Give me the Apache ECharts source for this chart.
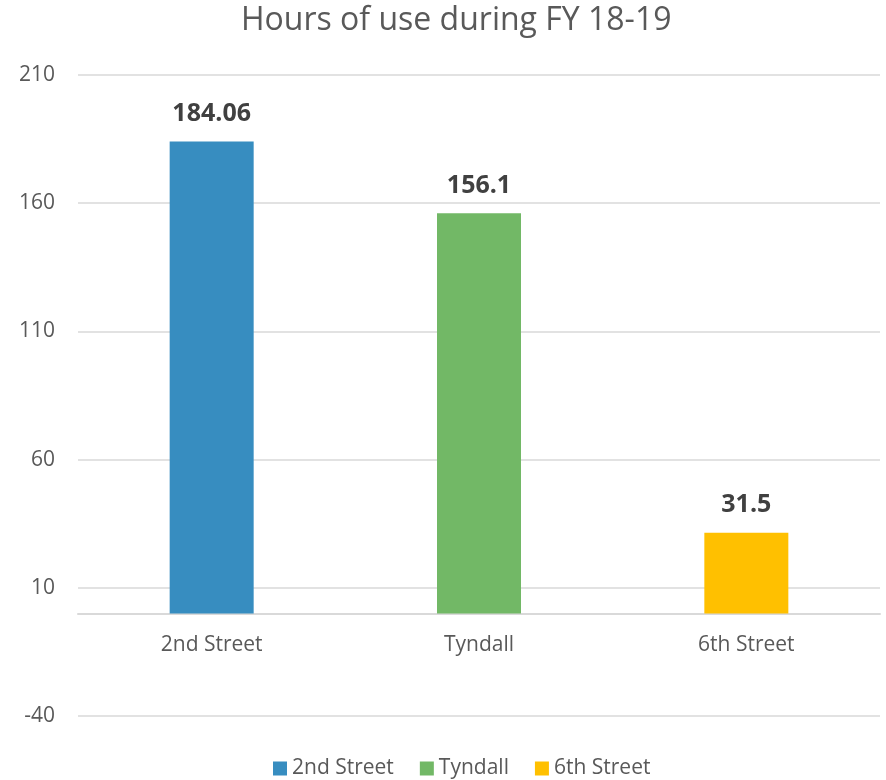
<!DOCTYPE html>
<html>
<head>
<meta charset="utf-8">
<script src="https://cdn.jsdelivr.net/npm/echarts@6/dist/echarts.min.js"></script>
<style>
  html, body { margin: 0; padding: 0; background: #fff; }
  #chart { width: 886px; height: 780px; }
</style>
</head>
<body>
<div id="chart"></div>
<script>
// data
var categories = ['2nd Street', 'Tyndall', '6th Street'];
var hours = [184.06, 156.1, 31.5];
var barColors = ['#378DC0', '#72B866', '#FFC000'];
var yMin = -40, yMax = 210, yStep = 50;

var font = '"Open Sans", "Liberation Sans", sans-serif';

var myChart = echarts.init(document.getElementById('chart'));

// one series per location so each gets its own legend entry
var series = categories.map(function (name, i) {
    var d = categories.map(function (c, j) { return j === i ? hours[i] : '-'; });
    return {
        name: name,
        type: 'bar',
        stack: 'one',
        barWidth: 84,
        data: d,
        itemStyle: { color: barColors[i] },
        label: {
            show: true,
            position: 'top',
            distance: 15,
            fontFamily: font,
            fontSize: 25,
            fontWeight: 'bold',
            color: '#404040'
        }
    };
});

var option = {
    animation: false,
    color: barColors,
    title: {
        text: 'Hours of use during FY 18-19',
        left: 236,
        top: 0,
        textStyle: {
            fontFamily: font,
            fontSize: 32,
            fontWeight: 'normal',
            color: '#595959'
        }
    },
    legend: {
        bottom: -4,
        left: 268,
        icon: 'rect',
        itemWidth: 14,
        itemHeight: 14,
        itemGap: 26,
        itemStyle: { borderWidth: 0 },
        textStyle: { fontFamily: font, fontSize: 21, color: '#595959' },
        data: categories
    },
    grid: {
        left: 78,
        right: 6,
        top: 75,
        bottom: 64,
        containLabel: false
    },
    xAxis: {
        type: 'category',
        data: categories,
        axisTick: { show: false },
        axisLine: { show: true, lineStyle: { color: '#D9D9D9', width: 2 } },
        axisLabel: {
            // labels sit under the zero line, not under the grid bottom
            margin: -81,
            fontFamily: font,
            fontSize: 21,
            color: '#595959'
        }
    },
    yAxis: {
        type: 'value',
        min: yMin,
        max: yMax,
        interval: yStep,
        axisLine: { show: false },
        axisTick: { show: false },
        axisLabel: {
            margin: 23,
            fontFamily: font,
            fontSize: 21,
            color: '#595959'
        },
        splitLine: { lineStyle: { color: '#D9D9D9', width: 1.5 } }
    },
    series: series
};

myChart.setOption(option);
</script>
</body>
</html>
